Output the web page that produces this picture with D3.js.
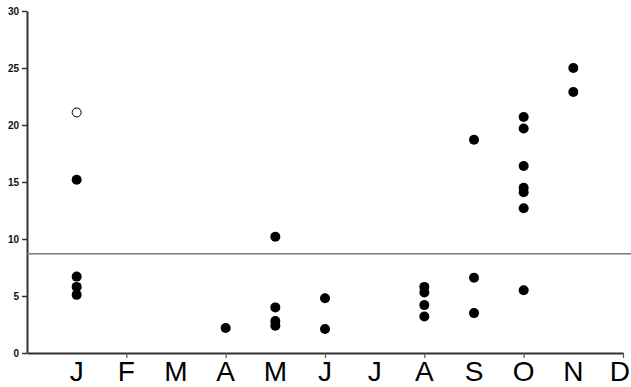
<!DOCTYPE html>
<html>
<head>
<meta charset="utf-8">
<script src="https://cdn.jsdelivr.net/npm/d3@7"></script>
<style>
  body { margin: 0; background: #fff; }
  svg { display: block; }
</style>
</head>
<body>
<svg width="631" height="387"></svg>
<script>
var width = 631, height = 387

// month labels along the bottom
var months = ["J", "F", "M", "A", "M", "J", "J", "A", "S", "O", "N", "D"]
var yTicks = [0, 5, 10, 15, 20, 25, 30]

// filled points: month number (1-12) and value
var filledMonth = [1, 1, 1, 1, 4, 5, 5, 5, 5, 6, 6, 8, 8, 8, 8, 9, 9, 9, 10, 10, 10, 10, 10, 10, 10, 11, 11]
var filledValue = [15.2, 6.7, 5.8, 5.1, 2.2, 10.2, 4.0, 2.8, 2.4, 4.8, 2.1, 5.8, 5.3, 4.2, 3.2, 18.7, 6.6, 3.5, 20.7, 19.7, 16.4, 14.5, 14.1, 12.7, 5.5, 25.0, 22.9]

// open point
var openMonth = [1]
var openValue = [21.1]

var refLine = 8.7

var svg = d3.select("svg")
var margin = {top: 11, right: 8, bottom: 34, left: 27}

var x = d3.scaleLinear().domain([0, 12]).range([margin.left, width - margin.right])
var y = d3.scaleLinear().domain([0, 30]).range([height - margin.bottom, margin.top])

// y axis
var yAxis = svg.append("g")
    .attr("transform", "translate(" + margin.left + ",0)")
    .call(d3.axisLeft(y).tickValues(yTicks).tickSize(5).tickSizeOuter(0))
yAxis.select(".domain").attr("stroke", "#333").attr("stroke-width", 2)
yAxis.selectAll(".tick line").attr("stroke", "#333").attr("stroke-width", 1.5)
yAxis.selectAll(".tick text")
    .attr("x", -8)
    .style("font-family", "Liberation Sans, Arial, sans-serif")
    .style("font-size", "10px")
    .style("font-weight", "bold")
    .attr("fill", "#111")

// x axis: ticks on every second month, labels on each month
var xAxis = svg.append("g")
    .attr("transform", "translate(0," + y(0) + ")")
    .call(d3.axisBottom(x).tickValues([2, 4, 6, 8, 10, 12]).tickSize(5).tickSizeOuter(0).tickFormat(""))
xAxis.select(".domain").attr("stroke", "#333").attr("stroke-width", 2)
xAxis.selectAll(".tick line").attr("stroke", "#555").attr("stroke-width", 1.2)

// last label would run off the right edge, so pin it to the edge
svg.append("g").selectAll("text")
    .data(months)
    .enter().append("text")
      .attr("x", function(d, i) { return i == months.length - 1 ? width - 1 : x(i + 1) })
      .attr("y", 381)
      .attr("text-anchor", function(d, i) { return i == months.length - 1 ? "end" : "middle" })
      .style("font-family", "Liberation Sans, Arial, sans-serif")
      .style("font-size", "28px")
      .attr("fill", "#000")
      .text(function(d) { return d })

// reference line
svg.append("line")
    .attr("x1", x(0))
    .attr("x2", width)
    .attr("y1", y(refLine))
    .attr("y2", y(refLine))
    .attr("stroke", "#7a7a7a")
    .attr("stroke-width", 1.6)

svg.append("g").selectAll("circle")
    .data(filledValue)
    .enter().append("circle")
      .attr("cx", function(d, i) { return x(filledMonth[i]) })
      .attr("cy", function(d) { return y(d) })
      .attr("r", 5)
      .attr("fill", "#000")

svg.append("g").selectAll("circle")
    .data(openValue)
    .enter().append("circle")
      .attr("cx", function(d, i) { return x(openMonth[i]) })
      .attr("cy", function(d) { return y(d) })
      .attr("r", 4.5)
      .attr("fill", "#fff")
      .attr("stroke", "#000")
      .attr("stroke-width", 1)
</script>
</body>
</html>
